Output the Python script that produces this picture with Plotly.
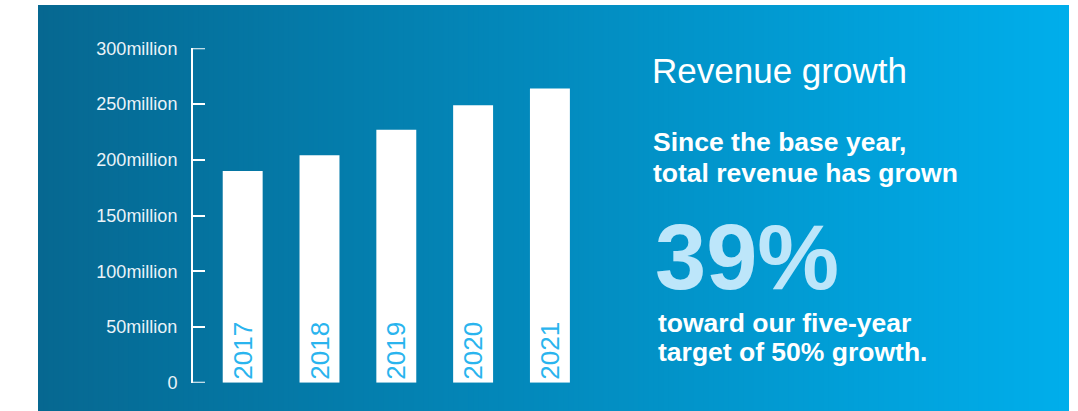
import plotly.graph_objects as go

# Annual revenue, millions
years = ["2017", "2018", "2019", "2020", "2021"]
revenue_m = [190, 204, 227, 249, 264]

# Y-axis ticks
tick_values = [0, 50, 100, 150, 200, 250, 300]
tick_labels = ["0", "50million", "100million", "150million",
               "200million", "250million", "300million"]

W, H = 1078, 411
FONT = "Liberation Sans, Arial, Helvetica, sans-serif"


def px_x(p):
    return p / W


def px_y(p):
    return 1 - p / H


fig = go.Figure(
    go.Bar(
        x=years,
        y=revenue_m,
        text=years,
        textposition="inside",
        insidetextanchor="start",
        textangle=-90,
        textfont=dict(family=FONT, size=26, color="#2ab4ee"),
        marker=dict(color="white", line=dict(width=0)),
        width=0.52,
        hoverinfo="skip",
    )
)

# Horizontal blue gradient panel behind everything
left_rgb = (6, 104, 145)
right_rgb = (0, 174, 235)
x_start, x_end, y_top = 38, 1069, 5
n_strips = 206
step = (x_end - x_start) / n_strips
shapes = []
for i in range(n_strips):
    t = i / (n_strips - 1)
    r, g, b = (round(a + (c - a) * t) for a, c in zip(left_rgb, right_rgb))
    x1 = min(x_start + (i + 1) * step + 2, x_end)
    shapes.append(dict(
        type="rect", xref="paper", yref="paper", layer="below",
        x0=px_x(x_start + i * step), x1=px_x(x1),
        y0=0, y1=px_y(y_top),
        fillcolor=f"rgb({r},{g},{b})", line=dict(width=0),
    ))

# Axis domains
x_dom = [px_x(193), px_x(596)]
y_dom = [px_y(382.7), px_y(48.3)]

# End caps of the bracket-style y axis (at the first and last tick values)
tick_len_px = 12
cap_frac = tick_len_px / ((x_dom[1] - x_dom[0]) * W)
for v in (tick_values[0], tick_values[-1]):
    shapes.append(dict(
        type="line", xref="x domain", yref="y",
        x0=0, x1=cap_frac, y0=v, y1=v,
        line=dict(color="white", width=2),
    ))

annotations = [
    dict(text="Revenue growth", x=px_x(650), y=px_y(70.5),
         font=dict(family=FONT, size=35, color="white")),
    dict(text="<b>Since the base year,</b>", x=px_x(651), y=px_y(141.5),
         font=dict(family=FONT, size=26.5, color="white")),
    dict(text="<b>total revenue has grown</b>", x=px_x(651), y=px_y(173),
         font=dict(family=FONT, size=26.5, color="white")),
    dict(text="<b>39%</b>", x=px_x(653), y=px_y(257),
         font=dict(family=FONT, size=92, color="#bde6fa")),
    dict(text="<b>toward our five-year</b>", x=px_x(656), y=px_y(323),
         font=dict(family=FONT, size=26.5, color="white")),
    dict(text="<b>target of 50% growth.</b>", x=px_x(656), y=px_y(351.5),
         font=dict(family=FONT, size=26.5, color="white")),
]
for a in annotations:
    a.update(xref="paper", yref="paper", xanchor="left", yanchor="middle",
             showarrow=False)

fig.update_layout(
    template="none",
    width=W, height=H,
    margin=dict(l=0, r=0, t=0, b=0, pad=0, autoexpand=False),
    paper_bgcolor="white",
    plot_bgcolor="rgba(0,0,0,0)",
    showlegend=False,
    shapes=shapes,
    annotations=annotations,
    xaxis=dict(
        type="category",
        domain=x_dom,
        range=[-0.647, 4.6],
        visible=False,
        automargin=False,
        fixedrange=True,
    ),
    yaxis=dict(
        domain=y_dom,
        range=[tick_values[0], tick_values[-1]],
        showline=True, linecolor="white", linewidth=2,
        ticks="inside", ticklen=tick_len_px, tickwidth=2, tickcolor="white",
        tickvals=tick_values, ticktext=tick_labels,
        tickfont=dict(family=FONT, size=18, color="#eaf3f8"),
        ticklabelstandoff=10,
        showgrid=False, zeroline=False, automargin=False, fixedrange=True,
    ),
)

fig.write_html("out.html")
